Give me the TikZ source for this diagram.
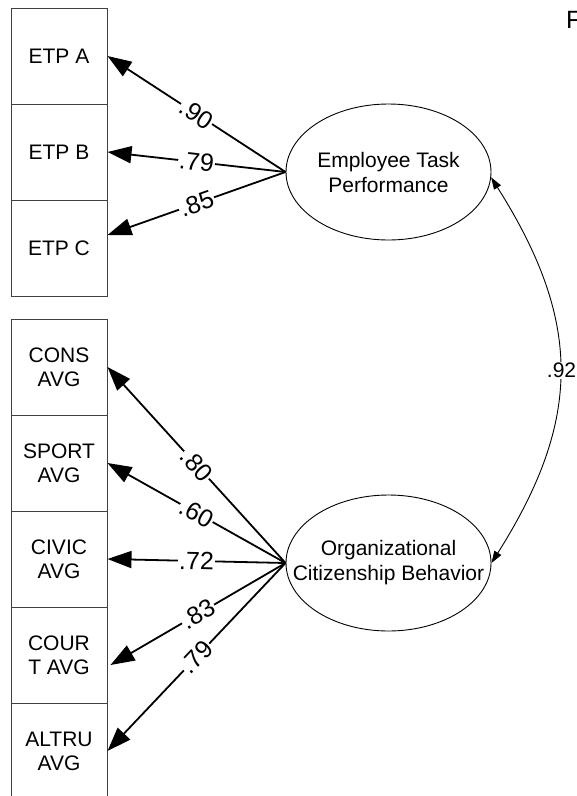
\documentclass[tikz,border=0pt]{standalone}
\usepackage{fontspec}
\setmainfont{Liberation Sans}
\usetikzlibrary{shapes.geometric,arrows.meta}
\begin{document}
\begin{tikzpicture}[x=1pt,y=-1pt,
  indicator/.style={draw=black!75, line width=1pt, minimum width=96pt, minimum height=96pt,
    inner sep=0pt, align=center, font=\fontsize{21}{24}\selectfont},
  latent/.style={ellipse, draw, line width=0.9pt, minimum width=205pt, minimum height=136pt,
    inner xsep=-40pt, inner ysep=0pt, align=center, font=\fontsize{21}{25}\selectfont},
  loading/.style={line width=1.8pt, -{Triangle[length=24pt,width=17pt]}},
  coef/.style={fill=white, inner sep=1pt, sloped, font=\fontsize{25}{25}\selectfont},
  covar/.style={line width=0.9pt, {Triangle[length=12pt,width=8pt]}-{Triangle[length=12pt,width=8pt]}},
  corr/.style={fill=white, inner sep=1pt, font=\fontsize{21}{21}\selectfont},
]
\clip (0,0) rectangle (577,796);
\fill[white] (0,0) rectangle (577,796);

% observed indicators of task performance
\node[indicator] (etpa) at (59,56) {ETP A};
\node[indicator] (etpb) at (59,152) {ETP B};
\node[indicator] (etpc) at (59,248) {ETP C};

% observed indicators of citizenship behaviour
\node[indicator] (cons) at (59,367) {CONS\\AVG};
\node[indicator] (sport) at (59,463) {SPORT\\AVG};
\node[indicator] (civic) at (59,559) {CIVIC\\AVG};
\node[indicator] (court) at (59,655) {COUR\\T AVG};
\node[indicator] (altru) at (59,751) {ALTRU\\AVG};

% latent factors
\node[latent] (etp) at (388.5,172) {Employee Task\\Performance};
\node[latent] (ocb) at (388.5,563) {Organizational\\Citizenship Behavior};

% factor loadings
\draw[loading] (etp.west) -- node[coef] {.90} (etpa.east);
\draw[loading] (etp.west) -- node[coef] {.79} (etpb.east);
\draw[loading] (etp.west) -- node[coef] {.85} ([yshift=13pt]etpc.east);

\draw[loading] (ocb.west) -- node[coef] {.80} (cons.east);
\draw[loading] (ocb.west) -- node[coef] {.60} (sport.east);
\draw[loading] (ocb.west) -- node[coef] {.72} (civic.east);
\draw[loading] (ocb.west) -- node[coef] {.83} ([xshift=3pt,yshift=-10pt]court.east);
\draw[loading] (ocb.west) -- node[coef] {.79} (altru.east);

% factor correlation
\draw[covar] (etp.-3) .. controls +(91,144) and +(91,-144) ..
  node[corr, xshift=2pt] {.92} (ocb.east);

% heading
\node[anchor=base west, inner sep=0pt, font=\fontsize{25}{25}\selectfont] (head) at (566,28) {F};
\end{tikzpicture}
\end{document}
